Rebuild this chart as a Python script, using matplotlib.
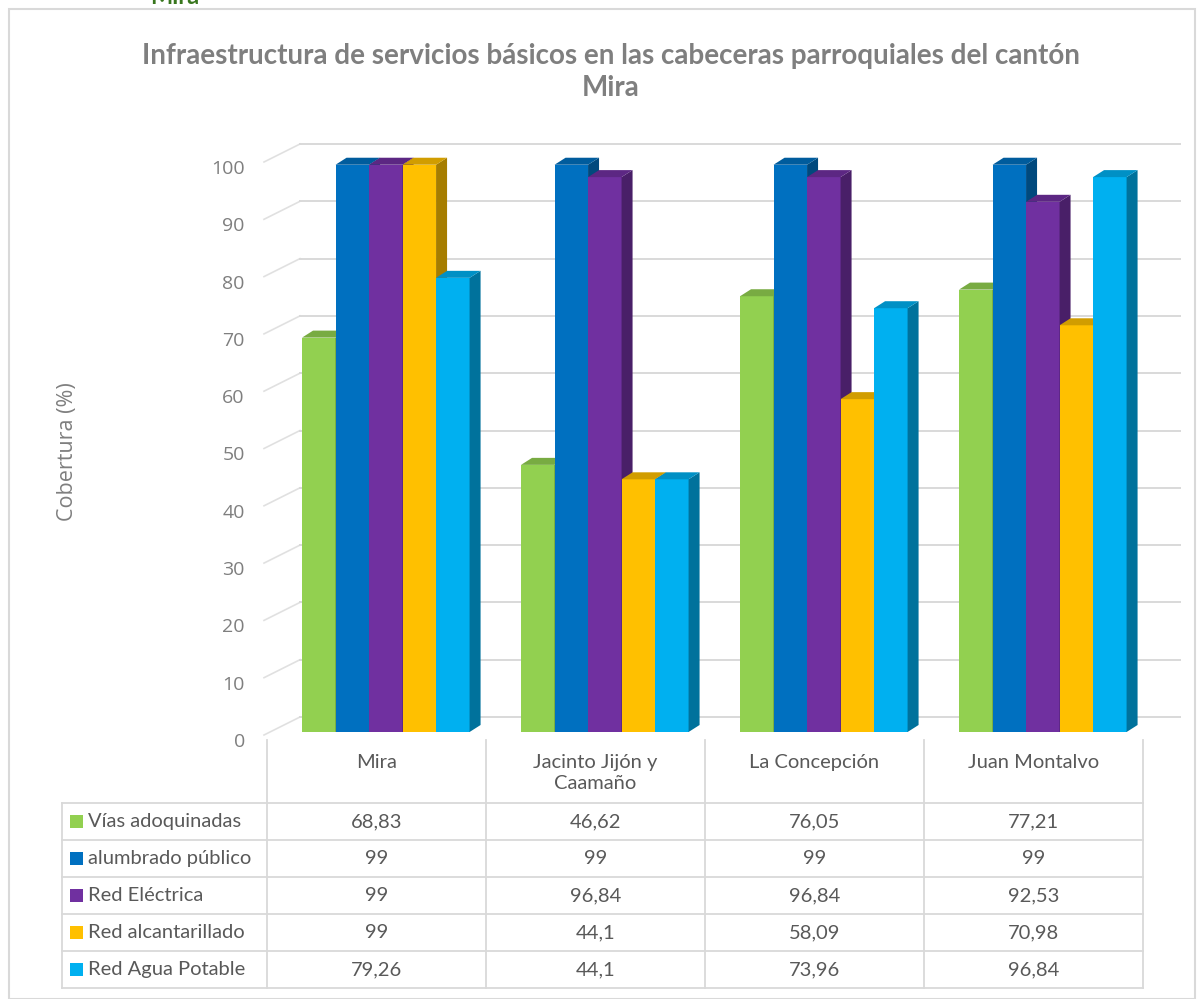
import matplotlib.pyplot as plt
import matplotlib.colors as mcolors
from matplotlib.patches import Polygon, Rectangle
from matplotlib.transforms import ScaledTranslation

categories = ["Mira", "Jacinto Jijón y\nCaamaño", "La Concepción", "Juan Montalvo"]
series = ["Vías adoquinadas", "alumbrado público", "Red Eléctrica",
          "Red alcantarillado", "Red Agua Potable"]
vias = [68.83, 46.62, 76.05, 77.21]
alumbrado = [99, 99, 99, 99]
electrica = [99, 96.84, 96.84, 92.53]
alcantarillado = [99, 44.1, 58.09, 70.98]
agua = [79.26, 44.1, 73.96, 96.84]
yticks = [0, 10, 20, 30, 40, 50, 60, 70, 80, 90, 100]
colors = ["#92D050", "#0070C0", "#7030A0", "#FFC000", "#00B0F0"]

values = [vias, alumbrado, electrica, alcantarillado, agua]

W, H = 1203, 999
fig = plt.figure(figsize=(W / 100, H / 100), dpi=100)

# full-figure pixel axes for frame, title and table
tax = fig.add_axes([0, 0, 1, 1], zorder=0)
tax.set_xlim(0, W)
tax.set_ylim(H, 0)
tax.axis("off")

gray = "#595959"
grid = "#d9d9d9"

tax.add_patch(Rectangle((9, 9), 1186, 990, fill=False, ec=grid, lw=1.5))
tax.text(150, 4, "Mira", color="#38761d", fontsize=17, fontweight="bold",
         family="Lato", va="baseline", ha="left")
tax.text(611, 72, "Infraestructura de servicios básicos en las cabeceras parroquiales del cantón\nMira",
         ha="center", va="center", fontsize=20, fontweight="bold", family="Lato",
         color="#7f7f7f", linespacing=1.25)
tax.text(68, 452, "Cobertura (%)", rotation=90, ha="center", va="center",
         fontsize=15.5, family="Open Sans", color="#7f7f7f")

# main plot axes (front plane)
x0, x1, y0, y100 = 267, 1143, 740, 167
ax = fig.add_axes([x0 / W, 1 - y0 / H, (x1 - x0) / W, (y0 - y100) / H], zorder=1)
ax.set_xlim(0, 4)
ax.set_ylim(0, 100)
ax.patch.set_alpha(0)
for s in ax.spines.values():
    s.set_visible(False)
ax.set_xticks([])
ax.set_yticks(yticks)
ax.set_yticklabels([str(t) for t in yticks], family="Open Sans", fontsize=14, color="#7f7f7f")
ax.tick_params(axis="y", length=0, pad=16)

pxx = (x1 - x0) / 4.0
pxy = (y0 - y100) / 100.0


def ux(p):
    return p / pxx


def uy(p):
    return p / pxy


# back wall gridlines
for t in yticks:
    ax.plot([ux(33), 4 + ux(37)], [t + uy(23), t + uy(23)], color=grid, lw=1.4,
            clip_on=False, zorder=1)
    ax.plot([ux(-3), ux(33)], [t + uy(5), t + uy(23)], color=grid, lw=1.2,
            alpha=0.8, clip_on=False, zorder=1)

# 3D-looking bars
lift = ax.transData + ScaledTranslation(0, 8 / 100, fig.dpi_scale_trans)
bw = 0.153
start = 0.16
ddx, ddy = ux(11), uy(7)


def shade(c, f):
    r, g, b = mcolors.to_rgb(c)
    return (r * f, g * f, b * f)


z = 2
for i in range(len(categories)):
    for j, vals in enumerate(values):
        v = vals[i]
        xl = i + start + j * bw
        xr = xl + bw
        c = colors[j]
        ax.bar(xl, v, width=bw, align="edge", color=c, transform=lift,
               clip_on=False, zorder=z)
        side = Polygon([(xr, 0), (xr, v), (xr + ddx, v + ddy), (xr + ddx, ddy)],
                       closed=True, fc=shade(c, 0.65), ec="none", transform=lift,
                       clip_on=False, zorder=z)
        top = Polygon([(xl, v), (xr, v), (xr + ddx, v + ddy), (xl + ddx, v + ddy)],
                      closed=True, fc=shade(c, 0.82), ec="none", transform=lift,
                      clip_on=False, zorder=z)
        ax.add_patch(side)
        ax.add_patch(top)
        z += 0.01

# data table
cols = [267, 486, 705, 924, 1143]
rows = [803, 840, 877, 914, 951, 988]
tl = 62
for cx in cols:
    tax.plot([cx, cx], [740, rows[-1]], color=grid, lw=1.3)
tax.plot([tl, tl], [rows[0], rows[-1]], color=grid, lw=1.3)
for ry in rows:
    tax.plot([tl, cols[-1]], [ry, ry], color=grid, lw=1.3)

fs = 14.5
for i, cat in enumerate(categories):
    cxm = (cols[i] + cols[i + 1]) / 2
    tax.text(cxm, 754, cat, ha="center", va="top", fontsize=fs, family="Lato",
             color=gray, linespacing=1.3)


def fmt(v):
    return ("%g" % v).replace(".", ",")


for j, name in enumerate(series):
    ry = (rows[j] + rows[j + 1]) / 2
    tax.add_patch(Rectangle((70, ry - 6.5), 13, 13, fc=colors[j], ec="none"))
    tax.text(88, ry, name, ha="left", va="center", fontsize=fs, family="Lato", color=gray)
    for i in range(len(categories)):
        cxm = (cols[i] + cols[i + 1]) / 2
        tax.text(cxm, ry, fmt(values[j][i]), ha="center", va="center",
                 fontsize=fs, family="Lato", color=gray)

plt.savefig("out.png", dpi=100)
